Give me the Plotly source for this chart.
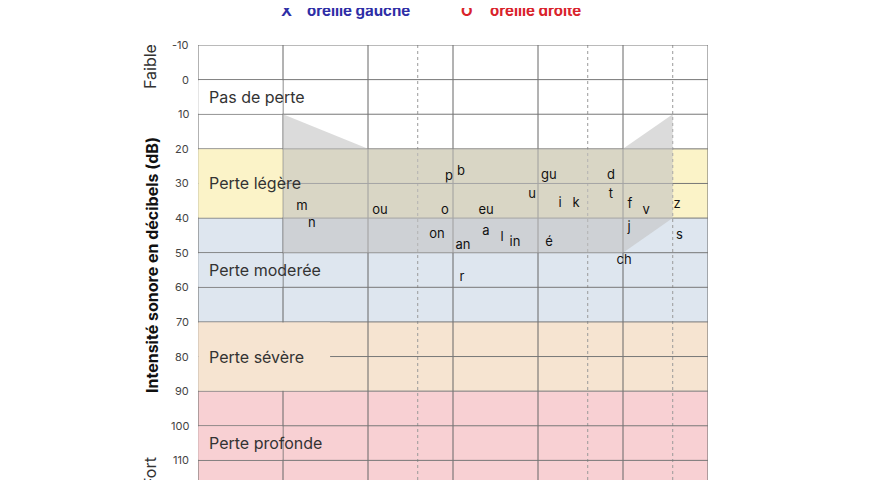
import numpy as np
import plotly.graph_objects as go

freqs_solid = [125, 250, 500, 1000, 2000, 4000, 8000]
freqs_dotted = [750, 3000, 6000]
db_ticks = list(range(-10, 121, 10))
bands = [("Pas de perte", -10, 20, "#ffffff"), ("Perte légère", 20, 40, "#fbf3c8"),
         ("Perte moderée", 40, 70, "#dee6ef"), ("Perte sévère", 70, 90, "#f6e4d1"),
         ("Perte profonde", 90, 120, "#f8d0d3")]
label_db = [5, 30, 55, 80, 105]
phonemes = ["m", "n", "ou", "o", "p", "b", "on", "an", "eu", "a", "l", "in", "r", "u", "gu",
            "i", "k", "é", "d", "t", "f", "v", "j", "ch", "z", "s"]
ph_freq = [292, 316, 551, 936, 968, 1067, 878, 1085, 1309, 1309, 1491, 1658, 1075, 1904, 2187,
           2393, 2726, 2187, 3626, 3626, 4236, 4827, 4200, 4034, 6213, 6340]
ph_db = [36.7, 41.6, 37.9, 37.9, 28, 26.6, 44.8, 48, 37.9, 43.9, 45.6, 47.1, 57.3, 33.2, 27.7,
         35.8, 35.8, 47.1, 27.7, 33.2, 36.1, 37.9, 42.8, 52.3, 36.1, 45.1]
banana_f = [250, 500, 4000, 6000, 6000, 4000, 250]
banana_db = [10, 20, 20, 10, 40, 50, 50]

oc = lambda f: np.log2(np.array(f, dtype=float) / 125.0)
FONT = "Inter"
OFF = 8  # page body margin
W, H, L, R, T, B = 872, 512, 198 - OFF, 172, 45 - OFF, 25
pw, ph = W - L - R, H - T - B

shapes = []
for name, y0, y1, col in bands:
    shapes.append(dict(type="rect", xref="x", yref="y", x0=0, x1=6, y0=y0, y1=y1,
                       fillcolor=col, line_width=0, layer="below"))
for f in freqs_solid:
    shapes.append(dict(type="line", x0=oc([f])[0], x1=oc([f])[0], y0=-10, y1=120,
                       line=dict(color="#666", width=1), layer="below"))
for f in freqs_dotted:
    shapes.append(dict(type="line", x0=oc([f])[0], x1=oc([f])[0], y0=-10, y1=120,
                       line=dict(color="#999", width=1, dash="dot"), layer="below"))
for d in db_ticks:
    shapes.append(dict(type="line", x0=0, x1=6, y0=d, y1=d,
                       line=dict(color="#777", width=1), layer="below"))
covers = [(0, 10, "#ffffff", 1), (20, 40, "#fbf3c8", 1), (50, 60, "#dee6ef", 1),
          (70, 90, "#f6e4d1", oc([367])[0]), (100, 110, "#f8d0d3", 1)]
for y0, y1, col, xr in covers:
    shapes.append(dict(type="rect", x0=0.004, x1=xr - 0.006 if xr == 1 else xr, y0=y0 + 0.15, y1=y1 - 0.15,
                       fillcolor=col, line_width=0, layer="below"))

fig = go.Figure()
fig.add_trace(go.Scatter(x=oc(banana_f), y=banana_db, fill="toself", mode="lines",
                         line=dict(width=0), fillcolor="rgba(195,195,195,0.6)", hoverinfo="skip"))
fig.add_trace(go.Scatter(x=oc(ph_freq), y=ph_db, mode="text", text=phonemes,
                         textfont=dict(family=FONT, size=13, color="#111"), hoverinfo="skip"))

ann = []
for (name, y0, y1, col), yd in zip(bands, label_db):
    ann.append(dict(x=0.1, y=yd, xref="x", yref="y", text=name, showarrow=False, xanchor="left",
                    font=dict(family=FONT, size=16, color="#333")))
for d in db_ticks:
    ann.append(dict(x=-7 / pw, y=d, xref="paper", yref="y", text=str(d), showarrow=False, xanchor="right",
                    font=dict(family=FONT, size=11, color="#444")))
px_ann = [
    dict(x=150, y=67, text="Faible", textangle=-90, font=dict(family=FONT, size=16, color="#333")),
    dict(x=150, y=472, text="Fort", textangle=-90, font=dict(family=FONT, size=16, color="#333")),
    dict(x=152, y=265, text="<b>Intensité sonore en décibels (dB)</b>", textangle=-90,
         font=dict(family=FONT, size=16, color="#111")),
    dict(x=286, y=11, text="<b>X</b>", font=dict(family=FONT, size=15, color="#2e2ea6")),
    dict(x=358, y=11, text="<b>oreille gauche</b>", font=dict(family=FONT, size=15, color="#2e2ea6")),
    dict(x=467, y=11, text="<b>O</b>", font=dict(family=FONT, size=15, color="#d9232b")),
    dict(x=535, y=11, text="<b>oreille droite</b>", font=dict(family=FONT, size=15, color="#d9232b")),
]
for a in px_ann:
    a.update(xref="paper", yref="paper", showarrow=False, xanchor="center", yanchor="middle",
             x=(a["x"] - OFF - L) / pw, y=1 - (a["y"] - OFF - T) / ph)
ann += px_ann

fig.update_layout(width=W, height=H, margin=dict(l=L, r=R, t=T, b=B), showlegend=False,
                  plot_bgcolor="white", paper_bgcolor="white", shapes=shapes, annotations=ann,
                  xaxis=dict(range=[0, 6], showgrid=False, zeroline=False, showticklabels=False, fixedrange=True),
                  yaxis=dict(range=[120, -10], showgrid=False, zeroline=False, showticklabels=False, fixedrange=True))
fig.write_html("out.html")
